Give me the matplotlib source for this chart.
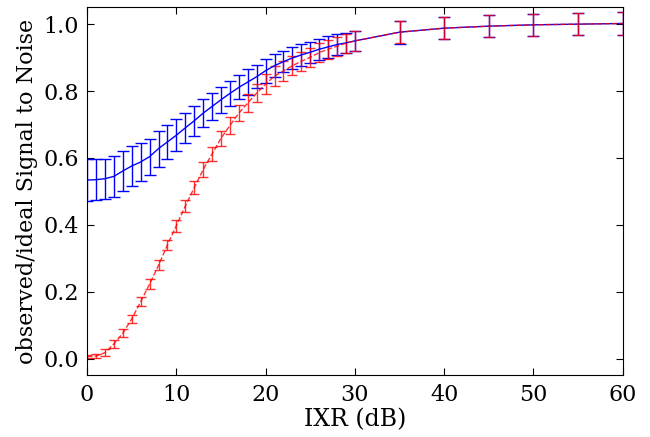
import matplotlib
matplotlib.use("Agg")
import matplotlib.pyplot as plt

plt.rcParams['font.family'] = ['DejaVu Serif']
plt.rcParams['mathtext.fontset'] = 'dejavuserif'

# IXR values (dB)
ixr = list(range(0, 31)) + [35, 40, 45, 50, 55, 60]

# observed/ideal SNR, blue series (solid) and its error
snr_blue = [0.534, 0.535, 0.538, 0.545, 0.561, 0.576, 0.588, 0.604, 0.628, 0.648,
            0.668, 0.690, 0.711, 0.734, 0.754, 0.774, 0.793, 0.811, 0.827, 0.843,
            0.861, 0.876, 0.888, 0.899, 0.908, 0.916, 0.925, 0.932, 0.939, 0.944,
            0.950, 0.976, 0.988, 0.994, 0.998, 1.000, 1.002]
err_blue = [0.063, 0.062, 0.060, 0.062, 0.059, 0.059, 0.058, 0.054, 0.054, 0.052,
            0.047, 0.045, 0.044, 0.041, 0.041, 0.039, 0.038, 0.036, 0.038, 0.035,
            0.036, 0.034, 0.032, 0.034, 0.033, 0.031, 0.032, 0.032, 0.032, 0.031,
            0.030, 0.034, 0.032, 0.033, 0.032, 0.033, 0.034]

# red series (dashed) and its error
snr_red = [0.006, 0.008, 0.018, 0.044, 0.076, 0.119, 0.170, 0.223, 0.279, 0.340,
           0.398, 0.456, 0.511, 0.565, 0.612, 0.659, 0.697, 0.734, 0.764, 0.794,
           0.821, 0.845, 0.860, 0.876, 0.889, 0.901, 0.915, 0.925, 0.934, 0.943,
           0.950, 0.976, 0.988, 0.994, 0.998, 1.000, 1.002]
err_red = [0.004, 0.006, 0.011, 0.012, 0.012, 0.013, 0.014, 0.015, 0.015, 0.016,
           0.018, 0.018, 0.019, 0.022, 0.021, 0.023, 0.024, 0.024, 0.028, 0.028,
           0.030, 0.029, 0.029, 0.029, 0.029, 0.029, 0.028, 0.028, 0.028, 0.028,
           0.029, 0.033, 0.032, 0.033, 0.032, 0.033, 0.034]

fig = plt.figure(figsize=(6.5, 4.37), dpi=100)
ax = fig.add_axes([0.134, 0.141, 0.824, 0.842])

ax.errorbar(ixr, snr_blue, yerr=err_blue, color='#0000ff', ecolor='#0000ff',
            lw=1, elinewidth=1, capsize=4.5, capthick=1)
ax.errorbar(ixr, snr_red, yerr=err_red, color='#ff0000', ecolor='#ff0000',
            lw=1, ls='--', elinewidth=1, capsize=3.5, capthick=1, alpha=0.8)

ax.set_xlim(0, 60)
ax.set_ylim(-0.05, 1.05)
ax.set_xticks([0, 10, 20, 30, 40, 50, 60])
ax.set_yticks([0.0, 0.2, 0.4, 0.6, 0.8, 1.0])
ax.set_yticklabels(['0.0', '0.2', '0.4', '0.6', '0.8', '1.0'])
ax.tick_params(direction='in', top=True, right=True, length=5, labelsize=16, pad=6)
ax.set_xlabel('IXR (dB)', fontsize=17, labelpad=2)
ax.set_ylabel('observed/ideal Signal to Noise', fontsize=16, labelpad=4)

fig.savefig('out.png', dpi=100)
